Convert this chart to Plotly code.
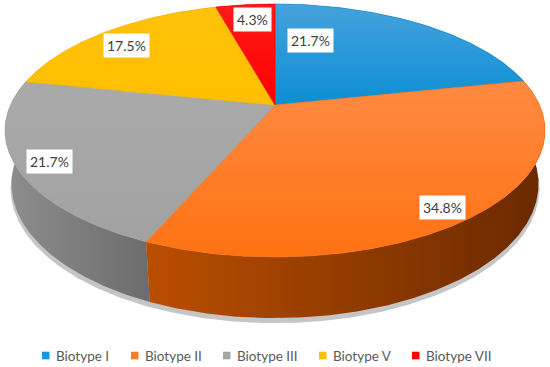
import numpy as np
import plotly.graph_objects as go

# ---- data ----
categories = ["Biotype I", "Biotype II", "Biotype III", "Biotype V", "Biotype VII"]
values = [21.7, 34.8, 21.7, 17.5, 4.3]
labels = ["21.7%", "34.8%", "21.7%", "17.5%", "4.3%"]

# ---- style ----
top_colors = [("#45A2DC", "#0D8ED4"), ("#FF8A42", "#FF7212"), ("#AAAAAA", "#A2A2A2"),
              ("#FFC20A", "#FFBE00"), ("#FF1A1A", "#FF0000")]
wall_colors = [("#0B6FA6", "#084F77"), ("#BA4E00", "#6A2900"), ("#8E8E8E", "#6C6C6C"),
               ("#C79600", "#9A7400"), ("#C00000", "#8A0000")]
legend_colors = ["#1496D8", "#FF7A22", "#A5A5A5", "#FFC000", "#FF0000"]
label_pos = [(310, 40), (442, 207), (49, 161), (126, 45), (252, 19)]
legend_x = [42, 131, 223, 319, 412]   # left edge of each legend square (px)
legend_y = 355.5

# ---- projection (perspective view of a tilted disc) ----
CX, CY = 275.0, 105.0
F = 1165.7
S, C = 0.4588, 0.8885
L = 4.407
H = 0.229


def proj(X, Y, Z):
    d = L + Y * C - Z * S
    sx = CX + F * X / d
    sy = CY - F * (Y * S + Z * C) / d
    return sx, sy


def arc(a0, a1, z, r=1.0):
    th = np.radians(np.linspace(a0, a1, max(int(abs(a1 - a0)) * 2, 4)))
    return proj(r * np.sin(th), r * np.cos(th), z)


total = sum(values)
starts = np.concatenate([[0], np.cumsum(values)[:-1]]) / total * 360
ends = np.cumsum(values) / total * 360

fig = go.Figure()

# soft shadow under the pie
sx, sy = arc(0, 360, -H - 0.005, 1.004)
fig.add_trace(go.Scatter(x=sx, y=sy + 3, fill="toself", mode="lines", line=dict(width=0),
                         fillcolor="rgba(90,90,90,0.35)", hoverinfo="skip", showlegend=False))

# walls, farthest first
mids = (starts + ends) / 2
order = np.argsort(-np.cos(np.radians(mids)))
for i in order:
    tx, ty = arc(starts[i], ends[i], 0)
    bx, by = arc(starts[i], ends[i], -H)
    xs = np.concatenate([tx, bx[::-1]])
    ys = np.concatenate([ty, by[::-1]])
    fig.add_trace(go.Scatter(
        x=xs, y=ys, fill="toself", mode="lines", line=dict(width=0),
        fillgradient=dict(type="horizontal", start=float(xs.min()), stop=float(xs.max()),
                          colorscale=[[0, wall_colors[i][0]], [1, wall_colors[i][1]]]),
        hoverinfo="skip", showlegend=False))

# top faces
for i in range(len(values)):
    ax, ay = arc(starts[i], ends[i], 0)
    xs = np.concatenate([[CX], ax, [CX]])
    ys = np.concatenate([[CY], ay, [CY]])
    fig.add_trace(go.Scatter(
        x=xs, y=ys, fill="toself", mode="lines", line=dict(width=0.6, color=top_colors[i][1]),
        fillgradient=dict(type="vertical", start=float(ys.min()), stop=float(ys.max()),
                          colorscale=[[0, top_colors[i][0]], [1, top_colors[i][1]]]),
        hoverinfo="skip", showlegend=False, name=categories[i]))

# data labels
for (lx, ly), t in zip(label_pos, labels):
    fig.add_annotation(x=lx, y=ly, xref="x", yref="y", text=t, showarrow=False,
                       font=dict(family="Lato", size=14, color="#404040"),
                       bgcolor="white", borderpad=3)

# legend (drawn manually to match spacing)
for i, name in enumerate(categories):
    x0 = legend_x[i]
    fig.add_shape(type="rect", xref="x", yref="y", x0=x0, x1=x0 + 7.5,
                  y0=legend_y - 3.8, y1=legend_y + 3.8,
                  fillcolor=legend_colors[i], line=dict(width=0))
    fig.add_annotation(x=x0 + 12, y=legend_y, xref="x", yref="y", text=name,
                       showarrow=False, xanchor="left", yanchor="middle",
                       font=dict(family="Lato", size=13.5, color="#595959"))

fig.update_layout(
    width=550, height=367, margin=dict(l=0, r=0, t=0, b=0, autoexpand=False),
    paper_bgcolor="white", plot_bgcolor="white",
    xaxis=dict(range=[0, 550], visible=False, fixedrange=True),
    yaxis=dict(range=[367, 0], visible=False, fixedrange=True),
    showlegend=False,
)

fig.write_html("out.html", config={"displayModeBar": False},
               post_script="document.body.style.margin='0';")
